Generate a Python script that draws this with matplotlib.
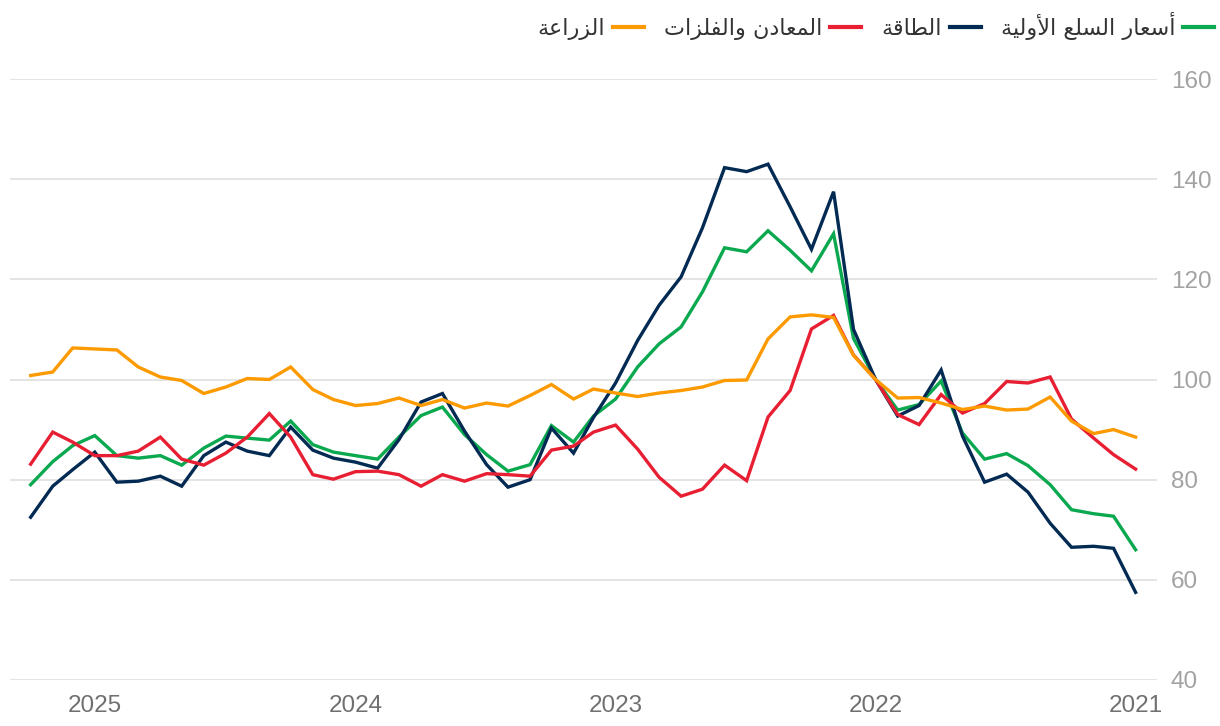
import matplotlib
matplotlib.use('Agg')
import matplotlib.pyplot as plt
import matplotlib.dates as mdates
from matplotlib.lines import Line2D
import pandas as pd

# monthly, Jan 2021 -> Apr 2025
months = pd.date_range('2021-01-01', periods=52, freq='MS')

energy = [57.5, 66.3, 66.7, 66.5, 71.3, 77.5, 81.1, 79.5, 88.7, 101.9,
          94.8, 92.7, 100.0, 110.0, 137.5, 126.0, 134.5, 143.0, 141.5, 142.3,
          130.3, 120.5, 114.8, 107.8, 99.3, 92.4, 85.3, 90.3, 80.0, 78.5,
          83.0, 89.7, 97.2, 95.5, 88.0, 82.3, 83.5, 84.3, 85.9, 90.5,
          84.8, 85.7, 87.5, 84.8, 78.7, 80.7, 79.7, 79.5, 85.5, 82.0,
          78.7, 72.5]
commodities = [66.0, 72.7, 73.2, 74.0, 79.0, 82.8, 85.2, 84.1, 89.3, 99.7,
               95.0, 93.9, 100.0, 108.2, 129.1, 121.7, 125.8, 129.7, 125.5, 126.3,
               117.5, 110.5, 107.1, 102.5, 96.1, 92.7, 87.5, 90.8, 83.0, 81.7,
               85.0, 89.0, 94.5, 92.8, 88.5, 84.1, 84.8, 85.5, 87.0, 91.7,
               87.9, 88.3, 88.7, 86.3, 82.9, 84.8, 84.3, 84.8, 88.8, 86.8,
               83.6, 79.0]
metals = [82.1, 85.0, 88.3, 92.1, 100.5, 99.3, 99.6, 95.2, 93.3, 97.0,
          91.0, 93.0, 100.0, 104.9, 112.8, 110.1, 97.8, 92.5, 79.8, 82.9,
          78.1, 76.7, 80.5, 86.1, 90.9, 89.5, 86.7, 85.9, 80.7, 81.0,
          81.2, 79.7, 81.0, 78.7, 81.0, 81.7, 81.6, 80.1, 81.0, 88.5,
          93.2, 88.5, 85.3, 82.9, 84.1, 88.5, 85.7, 84.8, 84.8, 87.5,
          89.5, 83.1]
agriculture = [88.5, 90.0, 89.2, 91.7, 96.5, 94.1, 93.9, 94.7, 94.0, 95.3,
               96.4, 96.3, 100.0, 104.8, 112.4, 112.9, 112.5, 108.1, 99.9, 99.8,
               98.5, 97.8, 97.3, 96.6, 97.3, 98.1, 96.1, 99.0, 96.8, 94.7,
               95.3, 94.3, 96.0, 94.8, 96.3, 95.2, 94.8, 96.0, 98.0, 102.5,
               100.0, 100.2, 98.5, 97.2, 99.8, 100.5, 102.5, 105.9, 106.1, 106.3,
               101.5, 100.8]

labels = ['أسعار السلع الأولية', 'الطاقة', 'المعادن والفلزات', 'الزراعة']
colors = ['#0aa84f', '#022a52', '#e81f32', '#fc9a00']

# matplotlib does no Arabic shaping, so map letters to presentation forms
FORMS = {
    '\u0627': ('\uFE8D', '\uFE8E'),
    '\u0623': ('\uFE83', '\uFE84'),
    '\u0629': ('\uFE93', '\uFE94'),
    '\u062F': ('\uFEA9', '\uFEAA'),
    '\u0631': ('\uFEAD', '\uFEAE'),
    '\u0632': ('\uFEAF', '\uFEB0'),
    '\u0648': ('\uFEED', '\uFEEE'),
    '\u062A': ('\uFE95', '\uFE96', '\uFE97', '\uFE98'),
    '\u0633': ('\uFEB1', '\uFEB2', '\uFEB3', '\uFEB4'),
    '\u0637': ('\uFEC1', '\uFEC2', '\uFEC3', '\uFEC4'),
    '\u0639': ('\uFEC9', '\uFECA', '\uFECB', '\uFECC'),
    '\u0641': ('\uFED1', '\uFED2', '\uFED3', '\uFED4'),
    '\u0642': ('\uFED5', '\uFED6', '\uFED7', '\uFED8'),
    '\u0644': ('\uFEDD', '\uFEDE', '\uFEDF', '\uFEE0'),
    '\u0645': ('\uFEE1', '\uFEE2', '\uFEE3', '\uFEE4'),
    '\u0646': ('\uFEE5', '\uFEE6', '\uFEE7', '\uFEE8'),
    '\u064A': ('\uFEF1', '\uFEF2', '\uFEF3', '\uFEF4'),
}
LAM_ALEF = {'\u0627': ('\uFEFB', '\uFEFC'), '\u0623': ('\uFEF7', '\uFEF8')}


def shape(text):
    out = []
    i = 0
    n = len(text)
    while i < n:
        c = text[i]
        if c not in FORMS:
            out.append(c)
            i += 1
            continue
        prev = text[i - 1] if i > 0 else None
        jp = prev in FORMS and len(FORMS[prev]) == 4
        if c == '\u0644' and i + 1 < n and text[i + 1] in LAM_ALEF:
            out.append(LAM_ALEF[text[i + 1]][1 if jp else 0])
            i += 2
            continue
        nxt = text[i + 1] if i + 1 < n else None
        f = FORMS[c]
        jn = len(f) == 4 and nxt in FORMS
        if jp and jn:
            out.append(f[3])
        elif jp:
            out.append(f[1])
        elif jn:
            out.append(f[2])
        else:
            out.append(f[0])
        i += 1
    return ''.join(reversed(out))


W, H = 1220, 726
fig = plt.figure(figsize=(W / 100, H / 100), dpi=100)
ax = fig.add_axes([10 / W, 46 / H, 1147 / W, 601 / H])

for series, c in zip([commodities, energy, metals, agriculture], colors):
    ax.plot(months, series, color=c, lw=2.4, solid_joinstyle='miter', zorder=3)

ax.set_ylim(40, 160)
ax.set_yticks(range(40, 161, 20))
ax.set_xlim(pd.Timestamp('2025-04-30'), pd.Timestamp('2020-12-02'))
ax.xaxis.set_major_locator(mdates.YearLocator())
ax.xaxis.set_major_formatter(mdates.DateFormatter('%Y'))

ax.yaxis.tick_right()
ax.grid(axis='y', color='#e2e2e2', lw=1.3)
ax.set_axisbelow(True)
for s in ax.spines.values():
    s.set_visible(False)
ax.tick_params(axis='y', length=0, pad=10, labelsize=17.5, labelcolor='#a3a3a3')
ax.tick_params(axis='x', length=0, pad=11, labelsize=17.5, labelcolor='#707070')
for t in ax.get_xticklabels() + ax.get_yticklabels():
    t.set_fontfamily('Liberation Sans')

handles = [Line2D([], [], color=c, lw=3) for c in colors]
shaped = [shape(l) for l in labels]
fig.legend(handles[::-1], shaped[::-1], ncol=4, markerfirst=False,
           loc='center right', bbox_to_anchor=(1214 / W, 1 - 26 / H),
           frameon=False, borderpad=0, borderaxespad=0,
           prop={'family': 'DejaVu Sans', 'size': 16},
           labelcolor='#333333', handlelength=1.4, handletextpad=0.35,
           columnspacing=0.9)

fig.savefig('out.png', dpi=100)
